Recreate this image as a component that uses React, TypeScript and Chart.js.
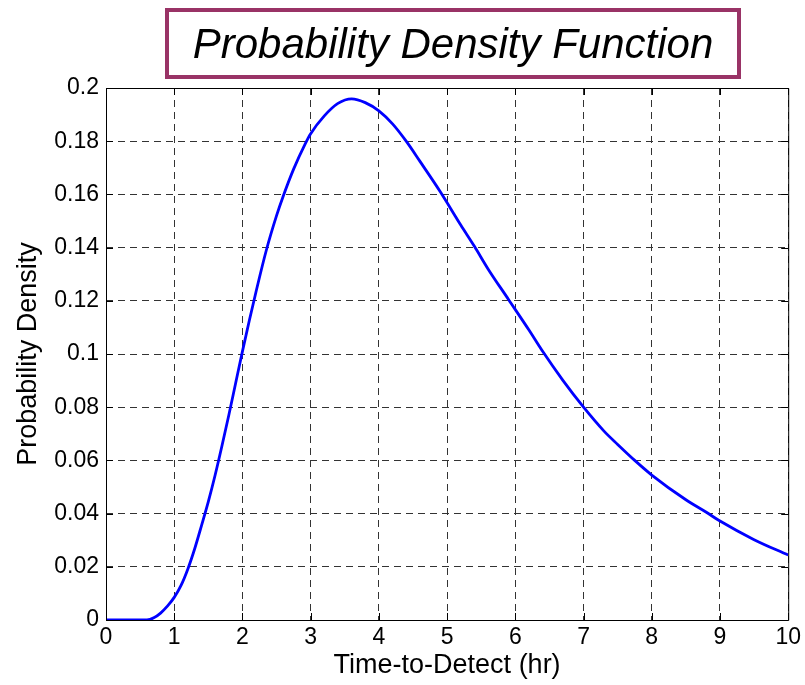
import React, { useEffect, useRef } from "react";
import { Chart, registerables } from "chart.js";

Chart.register(...registerables);

const chartTitle = "Probability Density Function";
const xAxisTitle = "Time-to-Detect (hr)";
const yAxisTitle = "Probability Density";

const xTickLabels = ["0", "1", "2", "3", "4", "5", "6", "7", "8", "9", "10"];
const yTickLabels = ["0", "0.02", "0.04", "0.06", "0.08", "0.1", "0.12", "0.14", "0.16", "0.18", "0.2"];

const timeHr = [
  0, 0.3, 0.6, 0.7, 0.8, 0.9, 1.0, 1.1, 1.2, 1.3, 1.4, 1.5, 1.6, 1.7, 1.8, 1.9, 2.0, 2.1,
  2.2, 2.35, 2.5, 2.6, 2.75, 2.92, 3.0, 3.2, 3.4, 3.6, 3.8, 4.0, 4.2, 4.4, 4.6, 4.9,
  5.2, 5.4, 5.6, 5.9, 6.2, 6.4, 6.7, 7.0, 7.3, 7.5, 7.75, 8.0, 8.5, 8.8, 9.0, 9.5, 10,
];
const density = [
  0, 0, 0, 0.0008, 0.0026, 0.0052, 0.0085, 0.013, 0.0192, 0.0268, 0.0355, 0.0445, 0.0545,
  0.0655, 0.077, 0.089, 0.101, 0.1125, 0.1235, 0.139, 0.152, 0.1595, 0.1695, 0.179, 0.1828,
  0.1895, 0.1942, 0.1959, 0.1945, 0.1914, 0.1865, 0.18, 0.1725, 0.161, 0.1485, 0.1405, 0.132,
  0.1205, 0.109, 0.101, 0.09, 0.08, 0.071, 0.066, 0.06, 0.0545, 0.0452, 0.0405, 0.0372,
  0.0302, 0.0244,
];

const FONT = "'Liberation Sans', Arial, Helvetica, sans-serif";

const framePlugin = {
  id: "matlabFrame",
  afterDraw(chart: any) {
    const { ctx, chartArea } = chart;
    const { left, right, top, bottom } = chartArea;
    const xs = chart.scales.x;
    const ys = chart.scales.y;
    ctx.save();
    ctx.strokeStyle = "#000";
    ctx.lineWidth = 1;
    ctx.setLineDash([]);
    ctx.beginPath();
    ctx.rect(left + 0.5, top + 0.5, right - left, bottom - top);
    ctx.stroke();
    const tl = 7;
    ctx.beginPath();
    xs.ticks.forEach((t: any) => {
      const px = Math.round(xs.getPixelForValue(t.value)) + 0.5;
      ctx.moveTo(px, bottom);
      ctx.lineTo(px, bottom - tl);
      ctx.moveTo(px, top);
      ctx.lineTo(px, top + tl);
    });
    ys.ticks.forEach((t: any) => {
      const py = Math.round(ys.getPixelForValue(t.value)) + 0.5;
      ctx.moveTo(left, py);
      ctx.lineTo(left + tl, py);
      ctx.moveTo(right, py);
      ctx.lineTo(right - tl, py);
    });
    ctx.stroke();

    // title box
    const bx = 165, by = 8, bw = 576, bh = 71;
    ctx.fillStyle = "#fff";
    ctx.fillRect(bx, by, bw, bh);
    ctx.strokeStyle = "#993366";
    ctx.lineWidth = 4;
    ctx.strokeRect(bx + 2, by + 2, bw - 4, bh - 4);
    ctx.fillStyle = "#000";
    ctx.font = `italic 42px ${FONT}`;
    ctx.textAlign = "center";
    ctx.textBaseline = "middle";
    ctx.fillText(chartTitle, bx + bw / 2, by + bh / 2 + 3);
    ctx.restore();
  },
};

export default function App() {
  const ref = useRef<HTMLCanvasElement | null>(null);
  useEffect(() => {
    if (!ref.current) return;
    const chart = new Chart(ref.current, {
      type: "line",
      data: {
        datasets: [
          {
            data: timeHr.map((x, i) => ({ x, y: density[i] })),
            borderColor: "#0000ff",
            borderWidth: 2.8,
            pointRadius: 0,
            fill: false,
            cubicInterpolationMode: "monotone",
          },
        ],
      },
      options: {
        responsive: false,
        animation: false,
        layout: { padding: { top: 88, right: 15, left: 0, bottom: 0 } },
        plugins: { legend: { display: false }, tooltip: { enabled: false }, title: { display: false } },
        scales: {
          x: {
            type: "linear",
            min: 0,
            max: 10,
            afterFit: (s: any) => { s.height = 65; },
            ticks: {
              stepSize: 1,
              color: "#000",
              padding: 4,
              maxRotation: 0,
              font: { family: FONT, size: 23 },
              callback: (v: any) => xTickLabels[Math.round(Number(v))] ?? "",
            },
            grid: { color: "#333", lineWidth: 1, drawTicks: false },
            border: { display: false, dash: [7, 5] },
            title: {
              display: true,
              text: xAxisTitle,
              color: "#000",
              font: { family: FONT, size: 27 },
              padding: { top: 0, bottom: 3 },
            },
          },
          y: {
            type: "linear",
            min: 0,
            max: 0.2,
            afterFit: (s: any) => { s.width = 106; },
            ticks: {
              stepSize: 0.02,
              color: "#000",
              padding: 7,
              font: { family: FONT, size: 23 },
              callback: (v: any) => yTickLabels[Math.round(Number(v) / 0.02)] ?? "",
            },
            grid: { color: "#333", lineWidth: 1, drawTicks: false },
            border: { display: false, dash: [7, 5] },
            title: {
              display: true,
              text: yAxisTitle,
              color: "#000",
              font: { family: FONT, size: 27 },
              padding: { top: 12, bottom: 0 },
            },
          },
        },
      },
      plugins: [framePlugin],
    } as any);
    return () => chart.destroy();
  }, []);
  return (
    <div style={{ position: "fixed", left: 0, top: 0, width: 805, height: 685, background: "#fff" }}>
      <canvas ref={ref} width={805} height={685} style={{ width: 805, height: 685, display: "block" }} />
    </div>
  );
}
